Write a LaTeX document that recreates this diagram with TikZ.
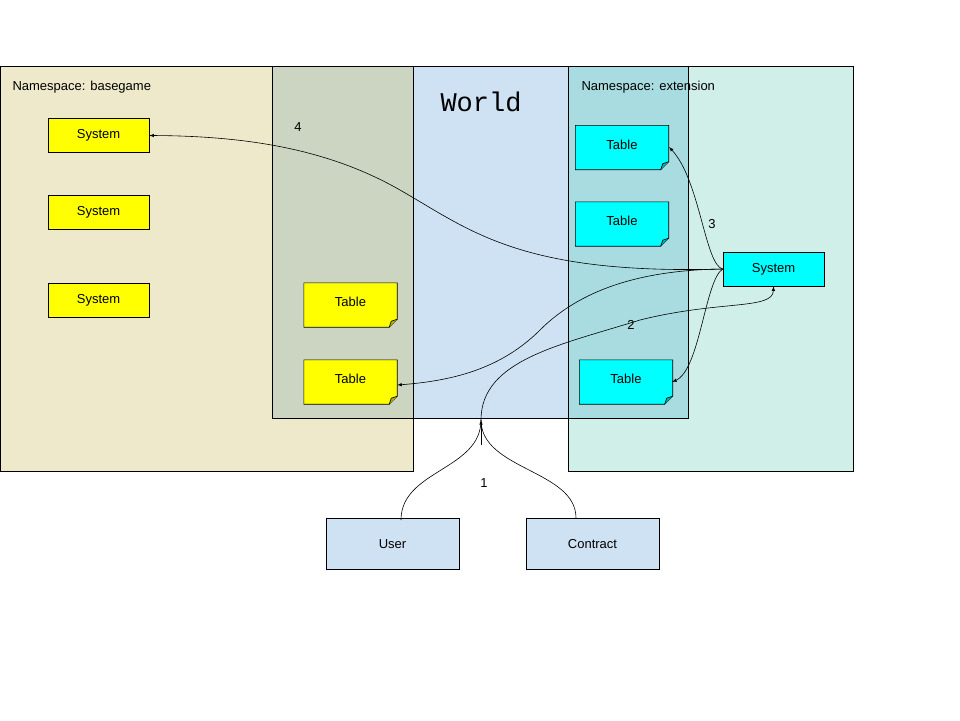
\documentclass[tikz,border=0pt]{standalone}
\usepackage{fontspec}
\setmainfont{Liberation Sans}
\newfontfamily\monof{Liberation Mono}
\begin{document}
\begin{tikzpicture}[x=1pt,y=-1pt,
  lbl/.style={font=\fontsize{13}{15}\selectfont},
  box/.style={lbl,draw=black,line width=0.6pt,inner sep=0,minimum width=#1},
  sys/.style={box=101pt,minimum height=34pt},
  tbl/.style={lbl,inner sep=0,minimum width=93pt,minimum height=44pt},
  ext/.style={box=133pt,minimum height=51pt,fill=worldc},
  conn/.style={->,>=latex,line width=0.6pt}]
\definecolor{basec}{HTML}{EFE9CC}
\definecolor{extc}{HTML}{D0EFE9}
\definecolor{worldc}{HTML}{CFE2F3}
\definecolor{ovl}{HTML}{CCD5C2}
\definecolor{ovr}{HTML}{A9DCE0}
\definecolor{yel}{HTML}{FFFF00}
\definecolor{cyn}{HTML}{00FFFF}
\useasboundingbox (0,0) rectangle (960,720);
% regions
\fill[basec] (0,66) rectangle (413,471);
\fill[extc] (568,66) rectangle (853,471);
\fill[worldc] (272,66) rectangle (688,418);
\fill[ovl] (272,66) rectangle (413,418);
\fill[ovr] (568,66) rectangle (688,418);
\draw[line width=0.6pt] (0,66) rectangle (413,471);
\draw[line width=0.6pt] (568,66) rectangle (853,471);
\draw[line width=0.6pt] (272,66) rectangle (688,418);
\node[lbl,anchor=west] (nb) at (9,87) {Namespace: basegame};
\node[lbl,anchor=west] (ne) at (578,87) {Namespace: extension};
\node[font=\monof\fontsize{27}{30}\selectfont] (w) at (481,102) {World};
% systems
\node[sys,fill=yel] (s1) at (98.5,135.5) {System};
\node[sys,fill=yel] (s2) at (98.5,212.5) {System};
\node[sys,fill=yel] (s3) at (98.5,300) {System};
\node[sys,fill=cyn] (cs) at (773.5,269) {System};
% tables
\node[tbl] (t1) at (350.5,305) {};
\node[tbl] (t2) at (350.5,382) {};
\node[tbl] (c1) at (622,147.5) {};
\node[tbl] (c2) at (622,224) {};
\node[tbl] (c3) at (626,382) {};
\foreach \n/\c in {t1/yel,t2/yel,c1/cyn,c2/cyn,c3/cyn}{
  \draw[fill=\c,line width=0.6pt] (\n.north west) -- (\n.north east) -- ([yshift=8pt]\n.south east) -- ([xshift=-8pt]\n.south east) -- (\n.south west) -- cycle;
  \draw[fill=\c!70!black,line width=0.6pt] ([yshift=8pt]\n.south east) -- ([xshift=-6pt,yshift=6pt]\n.south east) -- ([xshift=-8pt]\n.south east);
  \node[lbl] at ([yshift=3pt]\n.center) {Table};
}
% external
\node[ext] (u) at (392.5,544) {User};
\node[ext] (k) at (592.5,544) {Contract};
\coordinate (m) at (481,420);
% connectors
\draw[line width=0.6pt] (401,520) .. controls (401,470) and (481,470) .. (m);
\draw[line width=0.6pt] (576,518) .. controls (576,470) and (481,470) .. (m);
\draw[->,>=latex,line width=0.6pt] (481,445) -- (m);
\draw[conn] (m) .. controls (481,360) and (560,345) .. (640,320) .. controls (720,300) and (773,310) .. (cs.south);
\draw[conn] (cs.west) .. controls (520,275) and (470,230) .. (400,190) .. controls (330,150) and (250,136) .. (s1.east);
\draw[conn] (cs.west) .. controls (640,270) and (580,290) .. (540,330) .. controls (500,370) and (450,381) .. ([yshift=-3pt]t2.east);
\draw[conn] (cs.west) .. controls (705,265) and (700,180) .. (669,147);
\draw[conn] (cs.west) .. controls (705,280) and (700,370) .. (672,382);
% numbers
\node[lbl] (n4) at (298,127) {4};
\node[lbl] (n3) at (712,224) {3};
\node[lbl] (n2) at (631,325) {2};
\node[lbl] (n1) at (484,483) {1};
\end{tikzpicture}
\end{document}
